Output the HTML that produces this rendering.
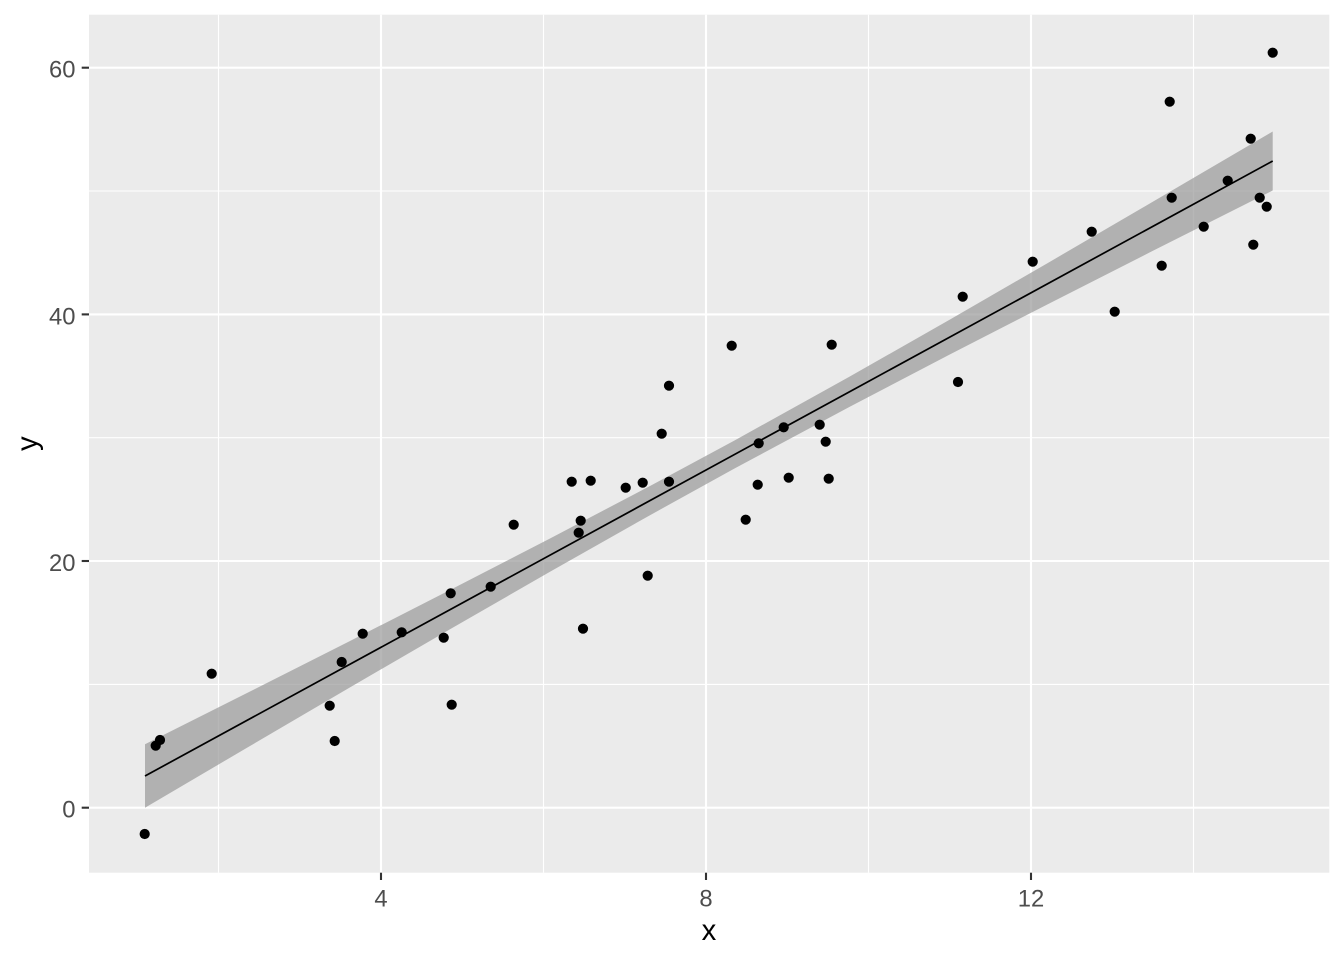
<!DOCTYPE html>
<html>
<head>
<meta charset="utf-8">
<style>
html,body{margin:0;padding:0;background:#fff;}
svg{display:block;}
text{font-family:"Liberation Sans",Arial,sans-serif;}
</style>
</head>
<body>
<svg width="1344" height="960" viewBox="0 0 1344 960" xmlns="http://www.w3.org/2000/svg">
<rect x="0" y="0" width="1344" height="960" fill="#ffffff"/>
<rect x="89" y="14.7" width="1240.3" height="858" fill="#EBEBEB"/>
<g stroke="#ffffff" stroke-width="1.1">
<line x1="89" x2="1329.3" y1="684.4" y2="684.4"/>
<line x1="89" x2="1329.3" y1="437.7" y2="437.7"/>
<line x1="89" x2="1329.3" y1="191.0" y2="191.0"/>
<line y1="14.7" y2="872.7" x1="218.5" x2="218.5"/>
<line y1="14.7" y2="872.7" x1="543.5" x2="543.5"/>
<line y1="14.7" y2="872.7" x1="868.5" x2="868.5"/>
<line y1="14.7" y2="872.7" x1="1193.5" x2="1193.5"/>
</g>
<g stroke="#ffffff" stroke-width="2.1">
<line x1="89" x2="1329.3" y1="807.7" y2="807.7"/>
<line x1="89" x2="1329.3" y1="561.0" y2="561.0"/>
<line x1="89" x2="1329.3" y1="314.4" y2="314.4"/>
<line x1="89" x2="1329.3" y1="67.7" y2="67.7"/>
<line y1="14.7" y2="872.7" x1="381" x2="381"/>
<line y1="14.7" y2="872.7" x1="706" x2="706"/>
<line y1="14.7" y2="872.7" x1="1031" x2="1031"/>
</g>
<polygon fill="#999999" fill-opacity="0.7" points="145,744.3 250,691.5 350,641.0 450,590.0 550,538.5 650,486.0 734.5,440.5 850,376.4 950,319.5 1050,261.7 1150,203.4 1272.7,131.5 1272.7,190.5 1150,252.3 1050,303.1 950,354.4 850,406.6 734.5,468.5 650,515.2 550,571.7 450,629.3 350,687.4 250,746.0 145,807.7"/>
<line x1="145" y1="776" x2="1272.7" y2="161" stroke="#000000" stroke-width="1.7"/>
<g fill="#000000">
<circle cx="144.7" cy="834" r="5.1"/>
<circle cx="155.7" cy="745.7" r="5.1"/>
<circle cx="160" cy="740" r="5.1"/>
<circle cx="211.7" cy="673.7" r="5.1"/>
<circle cx="329.7" cy="705.7" r="5.1"/>
<circle cx="334.7" cy="741" r="5.1"/>
<circle cx="341.7" cy="662" r="5.1"/>
<circle cx="362.7" cy="633.7" r="5.1"/>
<circle cx="401.7" cy="632.3" r="5.1"/>
<circle cx="443.7" cy="637.7" r="5.1"/>
<circle cx="450.7" cy="593.3" r="5.1"/>
<circle cx="451.7" cy="704.7" r="5.1"/>
<circle cx="490.7" cy="586.7" r="5.1"/>
<circle cx="513.7" cy="524.7" r="5.1"/>
<circle cx="571.7" cy="481.7" r="5.1"/>
<circle cx="590.7" cy="480.7" r="5.1"/>
<circle cx="580.7" cy="520.7" r="5.1"/>
<circle cx="578.7" cy="532.7" r="5.1"/>
<circle cx="583" cy="628.7" r="5.1"/>
<circle cx="625.7" cy="487.7" r="5.1"/>
<circle cx="642.7" cy="482.7" r="5.1"/>
<circle cx="647.7" cy="575.7" r="5.1"/>
<circle cx="661.7" cy="433.7" r="5.1"/>
<circle cx="669" cy="385.7" r="5.1"/>
<circle cx="669" cy="481.7" r="5.1"/>
<circle cx="731.7" cy="345.7" r="5.1"/>
<circle cx="745.7" cy="519.7" r="5.1"/>
<circle cx="757.7" cy="484.7" r="5.1"/>
<circle cx="758.7" cy="443.3" r="5.1"/>
<circle cx="783.7" cy="427.3" r="5.1"/>
<circle cx="788.7" cy="477.7" r="5.1"/>
<circle cx="819.7" cy="424.7" r="5.1"/>
<circle cx="825.7" cy="441.7" r="5.1"/>
<circle cx="828.7" cy="478.7" r="5.1"/>
<circle cx="831.7" cy="344.7" r="5.1"/>
<circle cx="958" cy="382" r="5.1"/>
<circle cx="962.7" cy="296.7" r="5.1"/>
<circle cx="1032.7" cy="261.7" r="5.1"/>
<circle cx="1091.7" cy="231.7" r="5.1"/>
<circle cx="1114.7" cy="311.7" r="5.1"/>
<circle cx="1161.7" cy="265.7" r="5.1"/>
<circle cx="1169.7" cy="101.7" r="5.1"/>
<circle cx="1171.7" cy="197.7" r="5.1"/>
<circle cx="1203.7" cy="226.7" r="5.1"/>
<circle cx="1227.7" cy="180.7" r="5.1"/>
<circle cx="1250.7" cy="138.7" r="5.1"/>
<circle cx="1253.3" cy="244.7" r="5.1"/>
<circle cx="1259.7" cy="197.7" r="5.1"/>
<circle cx="1266.7" cy="206.7" r="5.1"/>
<circle cx="1272.7" cy="52.7" r="5.1"/>
</g>
<g stroke="#333333" stroke-width="2.1">
<line x1="81.7" x2="89" y1="807.7" y2="807.7"/>
<line x1="81.7" x2="89" y1="561.0" y2="561.0"/>
<line x1="81.7" x2="89" y1="314.4" y2="314.4"/>
<line x1="81.7" x2="89" y1="67.7" y2="67.7"/>
<line y1="872.7" y2="880" x1="381" x2="381"/>
<line y1="872.7" y2="880" x1="706" x2="706"/>
<line y1="872.7" y2="880" x1="1031" x2="1031"/>
</g>
<g fill="#4D4D4D" font-size="23.8" text-anchor="end">
<text x="75.5" y="817.7">0</text>
<text x="75.5" y="571">20</text>
<text x="75.5" y="324.4">40</text>
<text x="75.5" y="77.7">60</text>
</g>
<g fill="#4D4D4D" font-size="23.8" text-anchor="middle">
<text x="381" y="906.5">4</text>
<text x="706" y="906.5">8</text>
<text x="1031" y="906.5">12</text>
</g>
<text x="709" y="940" font-size="29.3" text-anchor="middle" fill="#000000">x</text>
<text transform="translate(37,443.7) rotate(-90)" font-size="29.3" text-anchor="middle" fill="#000000">y</text>
</svg>
</body>
</html>
